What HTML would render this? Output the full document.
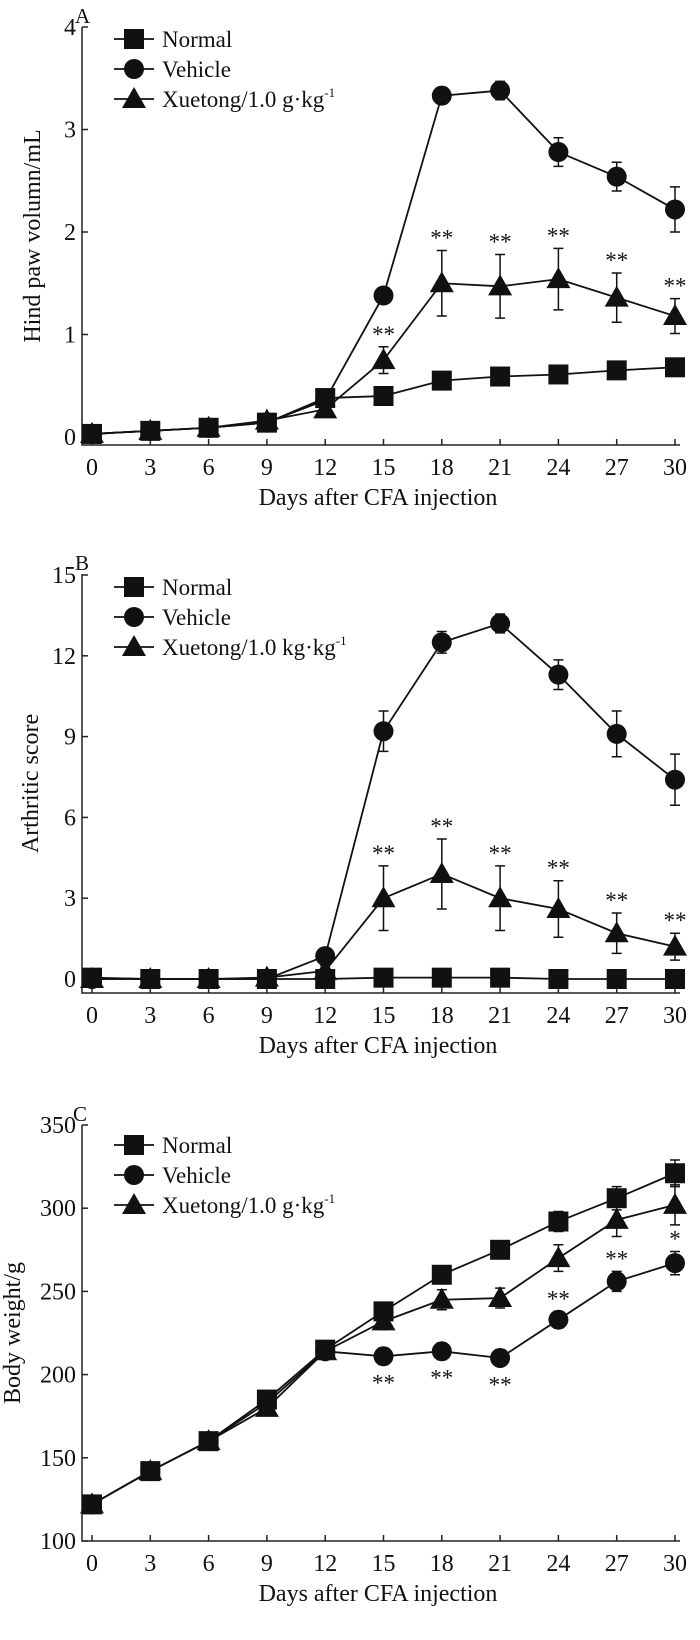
<!DOCTYPE html>
<html><head><meta charset="utf-8"><style>
body{margin:0;background:#fff}
svg text{font-family:"Liberation Serif",serif;fill:#111}
</style></head><body>
<svg id="s" width="700" height="1635" viewBox="0 0 700 1635" xmlns="http://www.w3.org/2000/svg"></svg>
<script>
const days=[0,3,6,9,12,15,18,21,24,27,30];
const aNormal=[0.03,0.06,0.09,0.14,0.38,0.40,0.55,0.59,0.61,0.65,0.68];
const aNormalErr=[0.02,0.02,0.02,0.02,0.03,0.03,0.03,0.03,0.03,0.03,0.03];
const aVehicle=[0.03,0.06,0.09,0.14,0.36,1.38,3.33,3.38,2.78,2.54,2.22];
const aVehicleErr=[0,0,0,0,0.03,0.07,0.08,0.09,0.14,0.14,0.22];
const aXue=[0.03,0.06,0.09,0.16,0.27,0.75,1.50,1.47,1.54,1.36,1.18];
const aXueErr=[0,0,0,0.03,0.03,0.13,0.32,0.31,0.30,0.24,0.17];
const bNormal=[0.05,0,0,0,0,0.05,0.05,0.05,0,0,0];
const bVehicle=[0,0,0,0,0.85,9.2,12.5,13.2,11.3,9.1,7.4];
const bVehicleErr=[0,0,0,0,0.2,0.75,0.4,0.35,0.55,0.85,0.95];
const bXue=[0,0,0,0.05,0.3,3.0,3.9,3.0,2.6,1.7,1.2];
const bXueErr=[0,0,0,0,0.2,1.2,1.3,1.2,1.05,0.75,0.5];
const cNormal=[122,142,160,185,215,238,260,275,292,306,321];
const cNormalErr=[2,2,2,3,3,3,4,4,6,7,8];
const cVehicle=[122,142,160,183,214,211,214,210,233,256,267];
const cVehicleErr=[2,2,2,3,3,5,5,5,5,6,7];
const cXue=[122,142,160,180,214,232,245,246,270,293,302];
const cXueErr=[2,2,2,3,3,5,6,6,8,10,12];
const aTicks=[0,1,2,3,4], bTicks=[0,3,6,9,12,15], cTicks=[100,150,200,250,300,350];
const aStars=["","","","","","**","**","**","**","**","**"];
const bStars=["","","","","","**","**","**","**","**","**"];
const cStars=["","","","","","**","**","**","**","**","*"];
const NS="http://www.w3.org/2000/svg", S=document.getElementById('s');
function el(t,a,p){const e=document.createElementNS(NS,t);for(const k in a)e.setAttribute(k,a[k]);(p||S).appendChild(e);return e;}
function tx(x,y,s,size,anchor,p){const e=el('text',{x:x,y:y,'font-size':size,'text-anchor':anchor||'middle'},p);e.textContent=s;return e;}
const xs=d=>92+d*(583/30);
function marker(kind,x,y,g){
  if(kind==='sq') return el('rect',{x:x-10,y:y-10,width:20,height:20,fill:'#111'},g);
  if(kind==='ci') return el('circle',{cx:x,cy:y,r:10,fill:'#111'},g);
  return el('polygon',{points:`${x},${y-12} ${x+12},${y+9} ${x-12},${y+9}`,fill:'#111'},g);
}
function panel(cfg){
  const g=el('g',{});
  
  
  const ys=v=>cfg.y0+(v-cfg.min)*(cfg.y1-cfg.y0)/(cfg.max-cfg.min);
  const ax=el('path',{d:`M82 ${cfg.yTop} V${cfg.axisY} H680`,stroke:'#222','stroke-width':1.5,fill:'none'},g);
  
  cfg.ticks.forEach(t=>{const y=ys(t);el('line',{x1:82,x2:88,y1:y,y2:y,stroke:'#222','stroke-width':1.5},g);
    const l=tx(76,y+8,String(t),24,'end',g);});
  days.forEach(d=>{el('line',{x1:xs(d),x2:xs(d),y1:cfg.axisY,y2:cfg.axisY-6,stroke:'#222','stroke-width':1.5},g);
    const l=tx(xs(d),cfg.axisY+30,String(d),24,'middle',g);});
  const xt=tx(378,cfg.axisY+60,'Days after CFA injection',24,'middle',g);
  
  const yt=tx(0,0,cfg.ytitle,24,'middle',g);yt.setAttribute('transform',`translate(${cfg.ytX},${(cfg.yTop+cfg.axisY)/2}) rotate(-90)`);
  
  const pl=tx(cfg.letterX,cfg.yTop-4,cfg.letter,21,'start',g);
  cfg.series.forEach(s=>{
    const sg=el('g',{},g);
    
    
    el('polyline',{points:s.v.map((v,i)=>xs(days[i])+','+ys(v)).join(' '),fill:'none',stroke:'#111','stroke-width':1.8},sg);
    s.v.forEach((v,i)=>{const e=s.e[i];if(e>0){const x=xs(days[i]);
      el('path',{d:`M${x} ${ys(v+e)} V${ys(v-e)} M${x-5} ${ys(v+e)} H${x+5} M${x-5} ${ys(v-e)} H${x+5}`,stroke:'#111','stroke-width':1.5},sg);}
      const m=marker(s.kind,xs(days[i]),ys(v),sg);
      
      });
    if(s.stars) s.stars.forEach((st,i)=>{if(!st)return;const v=s.v[i],e=s.e[i];
      const y=s.below&&s.below[i]?ys(v-e)+26:ys(v+e)-5;
      const t=tx(xs(days[i]),y,st,23,'middle',sg);});
  });
  const lg=el('g',{},g);
  
  
  const labels=[['sq','Normal'],['ci','Vehicle'],['tr',cfg.xlabel]];
  labels.forEach((l,i)=>{const y=cfg.legY+i*30;
    el('line',{x1:114,x2:154,y1:y,y2:y,stroke:'#111','stroke-width':1.8},lg);
    marker(l[0],134,y,lg);
    const t=tx(162,y+8,'',23,'start',lg);
    t.textContent=l[1];if(i===2){const sp=el('tspan',{dy:-10,'font-size':13},t);sp.textContent='-1';}
  });
}
panel({name:'panel-a',letter:'A',letterX:75,min:0,max:4,y0:437,y1:27,yTop:27,axisY:445,ticks:aTicks,ytitle:'Hind paw volumn/mL',ytX:40,legY:39,xlabel:'Xuetong/1.0 g·kg',
  series:[{key:'normal',kind:'sq',v:aNormal,e:aNormalErr},{key:'vehicle',kind:'ci',v:aVehicle,e:aVehicleErr},{key:'xuetong',kind:'tr',v:aXue,e:aXueErr,stars:aStars}]});
panel({name:'panel-b',letter:'B',letterX:75,min:0,max:15,y0:979,y1:575,yTop:574,axisY:993,ticks:bTicks,ytitle:'Arthritic score',ytX:38,legY:587,xlabel:'Xuetong/1.0 kg·kg',
  series:[{key:'normal',kind:'sq',v:bNormal,e:bNormal.map(()=>0)},{key:'vehicle',kind:'ci',v:bVehicle,e:bVehicleErr},{key:'xuetong',kind:'tr',v:bXue,e:bXueErr,stars:bStars}]});
panel({name:'panel-c',letter:'C',letterX:73,min:100,max:350,y0:1541,y1:1125,yTop:1125,axisY:1541,ticks:cTicks,ytitle:'Body weight/g',ytX:20,legY:1145,xlabel:'Xuetong/1.0 g·kg',
  series:[{key:'normal',kind:'sq',v:cNormal,e:cNormalErr},{key:'vehicle',kind:'ci',v:cVehicle,e:cVehicleErr,stars:cStars,below:[0,0,0,0,0,1,1,1,0,0,0]},{key:'xuetong',kind:'tr',v:cXue,e:cXueErr}]});
</script>
</body></html>
